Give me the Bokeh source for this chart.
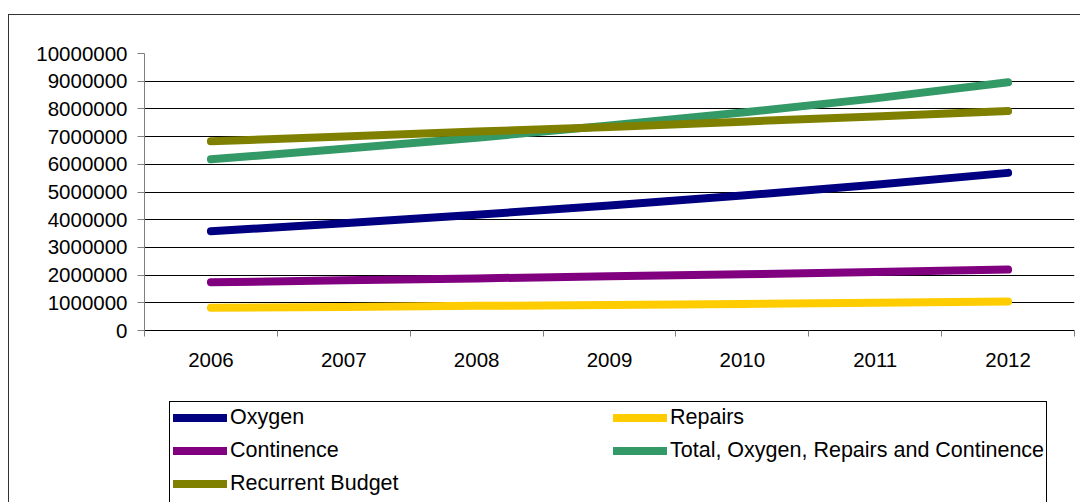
from bokeh.plotting import figure
from bokeh.layouts import column
from bokeh.models import (Range1d, FixedTicker, PrintfTickFormatter, Legend, LegendItem,
                          InlineStyleSheet)
from bokeh.embed import file_html
from bokeh.resources import INLINE

years = [2006, 2007, 2008, 2009, 2010, 2011, 2012]
oxygen = [3580000, 3870000, 4180000, 4510000, 4870000, 5260000, 5690000]
repairs = [820000, 850000, 890000, 920000, 960000, 1000000, 1050000]
continence = [1740000, 1810000, 1880000, 1960000, 2030000, 2110000, 2200000]
total = [6180000, 6560000, 6960000, 7400000, 7870000, 8380000, 8960000]
recurrent = [6830000, 7000000, 7180000, 7350000, 7540000, 7730000, 7920000]
y_ticks = [0, 1000000, 2000000, 3000000, 4000000, 5000000, 6000000, 7000000,
           8000000, 9000000, 10000000]

series = [
    ("Oxygen", oxygen, "#000080"),
    ("Repairs", repairs, "#FFCC00"),
    ("Continence", continence, "#800080"),
    ("Total, Oxygen, Repairs and Continence", total, "#339966"),
    ("Recurrent Budget", recurrent, "#808000"),
]
legend_order = ["Oxygen", "Repairs", "Continence",
                "Total, Oxygen, Repairs and Continence", "Recurrent Budget"]

FONT = "Liberation Sans"

# ---------------- main chart ----------------
p = figure(width=1080, height=400, output_backend="svg", toolbar_location=None,
           x_range=Range1d(years[0] - 0.5, years[-1] + 0.5),
           y_range=Range1d(y_ticks[0], y_ticks[-1]),
           min_border_left=144, min_border_right=6, min_border_top=53,
           min_border_bottom=70)
p.background_fill_color = "white"
p.border_fill_color = "white"
p.outline_line_color = None

p.xgrid.grid_line_color = None
p.ygrid.grid_line_color = "#000000"
p.ygrid.grid_line_width = 1

p.yaxis.ticker = FixedTicker(ticks=y_ticks)
p.yaxis.formatter = PrintfTickFormatter(format="%d")
p.yaxis.axis_line_color = "#808080"
p.yaxis.major_tick_line_color = "#808080"
p.yaxis.major_tick_out = 7
p.yaxis.major_tick_in = 0
p.yaxis.minor_tick_line_color = None
p.yaxis.major_label_standoff = 10
p.yaxis.major_label_text_font = FONT
p.yaxis.major_label_text_font_size = "20.5px"
p.yaxis.major_label_text_color = "#000000"

bounds = [y - 0.5 for y in years] + [years[-1] + 0.5]
p.xaxis.ticker = FixedTicker(ticks=years, minor_ticks=bounds)
p.xaxis.axis_line_color = "#000000"
p.xaxis.major_tick_line_color = None
p.xaxis.major_tick_out = 0
p.xaxis.major_tick_in = 0
p.xaxis.minor_tick_line_color = "#808080"
p.xaxis.minor_tick_out = 6
p.xaxis.minor_tick_in = 0
p.xaxis.major_label_standoff = 16
p.xaxis.major_label_text_font = FONT
p.xaxis.major_label_text_font_size = "20.5px"
p.xaxis.major_label_text_color = "#000000"

for name, vals, col in series:
    p.line(years, vals, line_width=8, line_color=col, line_cap="round",
           line_join="round")

p.stylesheets = [InlineStyleSheet(css="""
:host::before {
  content: ""; position: absolute; left: 8px; top: 14px; right: 0; bottom: 0;
  border-left: 1.5px solid #333333; border-top: 1.5px solid #333333;
  pointer-events: none; z-index: 10;
}
""")]

# ---------------- legend strip ----------------
q = figure(width=1080, height=102, output_backend="svg", toolbar_location=None,
           x_range=Range1d(0, 1), y_range=Range1d(0, 1),
           x_axis_type=None, y_axis_type=None, min_border=0)
q.background_fill_color = "white"
q.border_fill_color = "white"
q.outline_line_color = None
q.grid.visible = False

nan = float("nan")
proxies = {}
for name, vals, col in series:
    # legend proxy: a single NaN point, so nothing is drawn in the strip itself
    proxies[name] = q.line(x=[nan], y=[nan], line_width=8, line_color=col,
                           line_cap="round", line_join="round")

items = [LegendItem(label=n, renderers=[proxies[n]]) for n in legend_order]
legend = Legend(items=items, orientation="horizontal", ncols=2,
                location=(29, 6), glyph_width=54, glyph_height=25,
                label_height=25, label_width=375, label_standoff=3, spacing=8,
                padding=0, margin=0, border_line_color=None,
                background_fill_alpha=0, label_text_font=FONT,
                label_text_font_size="21.5px", label_text_color="#000000")
q.add_layout(legend, "center")

q.stylesheets = [InlineStyleSheet(css="""
:host::before {
  content: ""; position: absolute; left: 8px; top: 0; bottom: 0; width: 0;
  border-left: 1.5px solid #333333;
  pointer-events: none; z-index: 10;
}
:host::after {
  content: ""; position: absolute; left: 169px; top: 1px; width: 878px; bottom: 0;
  border-left: 1px solid #000000; border-top: 1px solid #000000;
  border-right: 1px solid #000000;
  pointer-events: none; z-index: 10;
}
""")]

layout = column(p, q, spacing=0)
open("out.html", "w").write(file_html(layout, INLINE))
